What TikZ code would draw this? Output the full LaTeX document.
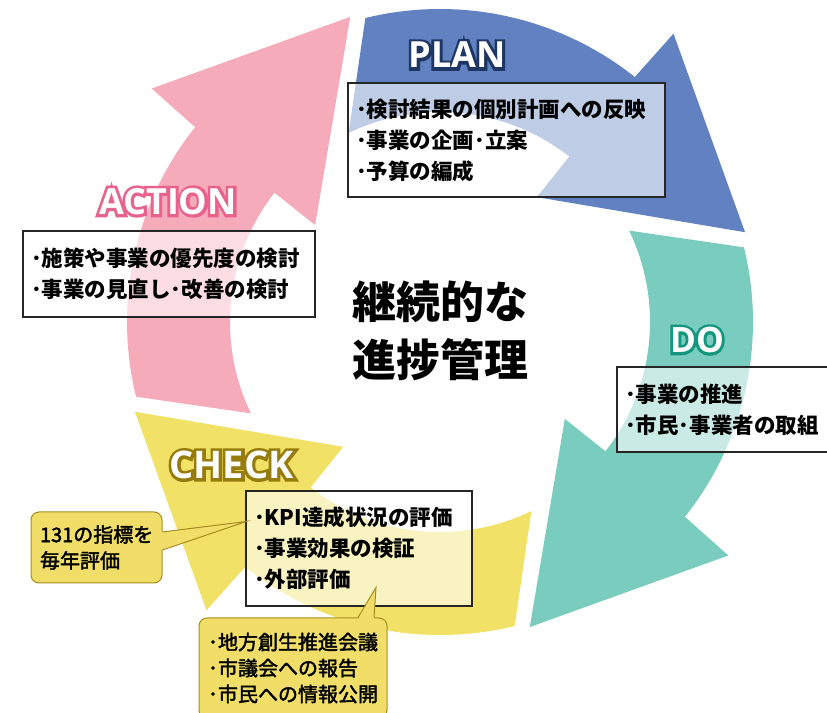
\documentclass[tikz,border=0pt]{standalone}
\usepackage{fontspec}
\setmainfont{Noto Sans CJK JP}
\newfontfamily\notefont{Noto Sans CJK JP}[FakeBold=2]
\newfontfamily\lblfont{Open Sans}
\newfontfamily\lbledge{Open Sans}[FakeBold=16]
\definecolor{planblue}{RGB}{97,129,193}
\definecolor{doteal}{RGB}{122,204,190}
\definecolor{checkyellow}{RGB}{241,225,102}
\definecolor{actpink}{RGB}{245,171,186}
\definecolor{plandark}{RGB}{30,54,100}
\definecolor{dodark}{RGB}{18,150,126}
\definecolor{checkdark}{RGB}{150,124,12}
\definecolor{actdark}{RGB}{232,98,140}
\definecolor{notefill}{RGB}{240,222,104}
\definecolor{noteline}{RGB}{168,140,32}

\begin{document}
\begin{tikzpicture}[
    x=1pt,y=1pt,
    box/.style={draw=black!85,line width=1.1pt,fill=white,fill opacity=0.6,text opacity=1,
      font=\bfseries\fontsize{21.5pt}{31pt}\selectfont,align=left,inner xsep=8pt,inner ysep=0pt},
    lbl/.style={text=white,font=\lblfont\bfseries\fontsize{#1}{#1}\selectfont,inner sep=0pt},
    lbledge/.style={font=\lbledge\bfseries\fontsize{#1}{#1}\selectfont,inner sep=0pt},
    note/.style={draw=noteline,line width=1pt,fill=notefill,rounded corners=8pt,
      font=\notefont\fontsize{20pt}{26pt}\selectfont,align=left,inner xsep=9pt,inner ysep=0pt}
    ]
    \useasboundingbox (0,0) rectangle (827,712);
    \coordinate (ctr) at (440,390);
    \fill[planblue, shift={(ctr)}] (103.8:313) arc[start angle=103.8, end angle=51.5, radius=313] -- (51:371) -- (16.4:318) -- (52.2:158) -- (52:210) arc[start angle=52, end angle=115.8, radius=210] -- cycle;
    \fill[doteal, shift={(ctr)}, rotate=-90] (103.8:313) arc[start angle=103.8, end angle=51.5, radius=313] -- (51:371) -- (16.4:318) -- (52.2:158) -- (52:210) arc[start angle=52, end angle=115.8, radius=210] -- cycle;
    \fill[checkyellow, shift={(ctr)}, rotate=-180] (103.8:313) arc[start angle=103.8, end angle=51.5, radius=313] -- (51:371) -- (16.4:318) -- (52.2:158) -- (52:210) arc[start angle=52, end angle=115.8, radius=210] -- cycle;
    \fill[actpink, shift={(ctr)}, rotate=90] (103.8:313) arc[start angle=103.8, end angle=51.5, radius=313] -- (51:371) -- (16.4:318) -- (52.2:158) -- (52:210) arc[start angle=52, end angle=115.8, radius=210] -- cycle;

    \node[box, minimum width=317pt, minimum height=114pt, text width=301pt] (planbox) at (506.5,572) {･検討結果の個別計画への反映\\･事業の企画･立案\\･予算の編成};
    \node[box, minimum width=292pt, minimum height=86pt, text width=276pt] (actbox) at (169,438) {･施策や事業の優先度の検討\\･事業の見直し･改善の検討};
    \node[box, minimum width=220pt, minimum height=85pt, text width=204pt] (dobox) at (727,302.5) {･事業の推進\\･市民･事業者の取組};
    \node[box, minimum width=226pt, minimum height=115pt, text width=210pt] (checkbox) at (359,163.5) {･KPI達成状況の評価\\･事業効果の検証\\･外部評価};

    \node[lbledge=36pt, text=plandark] (plan) at (457,657) {PLAN};
    \node[lbl=36pt] (plan-w) at (plan) {PLAN};
    \node[lbledge=35pt, text=dodark] (do) at (697,372) {DO};
    \node[lbl=35pt] (do-w) at (do) {DO};
    \node[lbledge=38pt, text=checkdark] (check) at (231.5,247) {CHECK};
    \node[lbl=38pt] (check-w) at (check) {CHECK};
    \node[lbledge=36pt, text=actdark] (action) at (168,510.5) {ACTION};
    \node[lbl=36pt] (action-w) at (action) {ACTION};

    \node[font=\bfseries\fontsize{44pt}{58pt}\selectfont, align=center] (goal) at (440,381) {継続的な\\進捗管理};

    \node[note, minimum width=131pt, minimum height=71pt, text width=113pt] (kpinote) at (96.5,164.5) {131の指標を\\毎年評価};
    \coordinate (kpitip) at ([xshift=1pt,yshift=-31pt]checkbox.north west);
    \fill[notefill] ([shift={(-2pt,15.5pt)}]kpinote.east) -- (kpitip) -- ([shift={(-2pt,-2.5pt)}]kpinote.east) -- cycle;
    \draw[noteline, line width=1pt] ([yshift=15.5pt]kpinote.east) -- (kpitip) -- ([yshift=-2.5pt]kpinote.east);

    \node[note, minimum width=188pt, minimum height=100pt, text width=170pt] (pubnote) at (293,44) {･地方創生推進会議\\･市議会への報告\\･市民への情報公開};
    \coordinate (pubtip) at ([shift={(17pt,19pt)}]checkbox.south);
    \fill[notefill] ([shift={(65pt,-2pt)}]pubnote.north) -- (pubtip) -- ([shift={(81pt,-2pt)}]pubnote.north) -- cycle;
    \draw[noteline, line width=1pt] ([xshift=65pt]pubnote.north) -- (pubtip) -- ([xshift=81pt]pubnote.north);
  \end{tikzpicture}
\end{document}
